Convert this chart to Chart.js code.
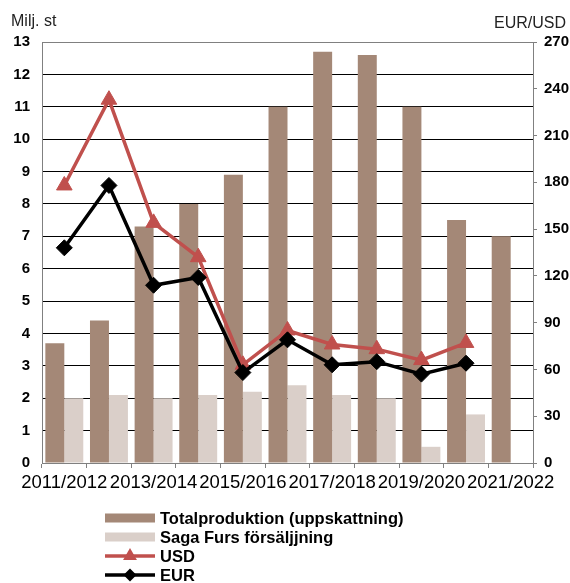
<!DOCTYPE html>
<html>
<head>
<meta charset="utf-8">
<script src="https://cdn.jsdelivr.net/npm/chart.js@4/dist/chart.umd.min.js"></script>
<style>
  html, body { margin: 0; padding: 0; background: #fff; }
  #wrap { width: 570px; height: 583px; position: relative; }
</style>
</head>
<body>
<div id="wrap"><canvas id="c" width="570" height="583"></canvas></div>
<script>
const categories = ["2011/2012","2012/2013","2013/2014","2014/2015","2015/2016","2016/2017","2017/2018","2018/2019","2019/2020","2020/2021","2021/2022"];
const totalProduction = [3.7, 4.4, 7.3, 8.0, 8.9, 11.0, 12.7, 12.6, 11.0, 7.5, 7.0];
const sagaFursSales = [2.0, 2.1, 2.0, 2.1, 2.2, 2.4, 2.1, 2.0, 0.5, 1.5, null];
const usdPrice = [178, 233, 154, 132, 63, 85, 76, 73, 66, 77, null];
const eurPrice = [138, 178, 114, 119, 58, 79, 63, 65, 57, 64, null];
const leftTicks = { min: 0, max: 13, step: 1 };
const rightTicks = { min: 0, max: 270, step: 30 };
const leftTitle = "Milj. st";
const rightTitle = "EUR/USD";

const FONT = "'Liberation Sans', Arial, sans-serif";
const C_TOTAL = '#A48877';
const C_SAGA = '#DACFC9';
const C_USD = '#C0504D';
const C_EUR = '#000000';

function drawMarker(ctx, style, x, y, r, color) {
  ctx.save();
  ctx.fillStyle = color;
  ctx.beginPath();
  if (style === 'triangle') {
    ctx.moveTo(x, y - r);
    ctx.lineTo(x + r * Math.sin(2 * Math.PI / 3), y - r * Math.cos(2 * Math.PI / 3));
    ctx.lineTo(x - r * Math.sin(2 * Math.PI / 3), y - r * Math.cos(2 * Math.PI / 3));
  } else {
    ctx.moveTo(x, y - r); ctx.lineTo(x + r, y); ctx.lineTo(x, y + r); ctx.lineTo(x - r, y);
  }
  ctx.closePath();
  ctx.fill();
  ctx.restore();
}

const extras = {
  id: 'extras',
  afterDraw(chart) {
    const ctx = chart.ctx;
    ctx.save();
    ctx.font = '16px ' + FONT;
    ctx.fillStyle = '#222';
    ctx.textBaseline = 'alphabetic';
    ctx.textAlign = 'left';
    ctx.fillText(leftTitle, 11, 26);
    ctx.textAlign = 'right';
    ctx.fillText(rightTitle, 566, 28);

    // legend
    const sx = 105, sw = 50, tx = 160;
    const rows = [518, 537, 556, 575];
    ctx.textAlign = 'left';
    ctx.textBaseline = 'middle';
    ctx.font = 'bold 16.5px ' + FONT;
    chart.data.datasets.forEach((ds, i) => {
      const y = rows[i];
      if (ds.type === 'line') {
        ctx.strokeStyle = ds.borderColor;
        ctx.lineWidth = 3.5;
        ctx.beginPath(); ctx.moveTo(sx, y); ctx.lineTo(sx + sw, y); ctx.stroke();
        drawMarker(ctx, ds.pointStyle, sx + sw / 2, y, ds.pointStyle === 'triangle' ? 8 : 6.5, ds.borderColor);
      } else {
        ctx.fillStyle = ds.backgroundColor;
        ctx.fillRect(sx, y - 4.5, sw, 9);
      }
      ctx.fillStyle = '#000';
      ctx.fillText(ds.label, tx, y + 1);
    });
    ctx.restore();
  }
};

new Chart(document.getElementById('c'), {
  type: 'bar',
  data: {
    labels: categories,
    datasets: [
      { type: 'bar', label: 'Totalproduktion (uppskattning)', data: totalProduction, backgroundColor: C_TOTAL, yAxisID: 'y', order: 3, categoryPercentage: 0.85, barPercentage: 1.0 },
      { type: 'bar', label: 'Saga Furs försäljjning', data: sagaFursSales, backgroundColor: C_SAGA, yAxisID: 'y', order: 4, categoryPercentage: 0.85, barPercentage: 1.0 },
      { type: 'line', label: 'USD', data: usdPrice, borderColor: C_USD, backgroundColor: C_USD, borderWidth: 3.5, pointStyle: 'triangle', pointRadius: 9, pointBorderWidth: 1, pointBackgroundColor: C_USD, pointBorderColor: C_USD, yAxisID: 'y2', order: 2, tension: 0 },
      { type: 'line', label: 'EUR', data: eurPrice, borderColor: C_EUR, backgroundColor: C_EUR, borderWidth: 3.5, pointStyle: 'rectRot', pointRadius: 8, pointBorderWidth: 1, pointBackgroundColor: C_EUR, pointBorderColor: C_EUR, yAxisID: 'y2', order: 1, tension: 0 }
    ]
  },
  options: {
    responsive: false,
    animation: false,
    layout: { padding: { top: 42, bottom: 90, left: 0, right: 0 } },
    plugins: { legend: { display: false }, tooltip: { enabled: false } },
    scales: {
      x: {
        offset: true,
        grid: { offset: true, drawOnChartArea: false, drawTicks: true, tickLength: 5, color: '#808080' },
        border: { display: true, color: '#808080', width: 1 },
        ticks: {
          autoSkip: false, maxRotation: 0, minRotation: 0, padding: 4,
          color: '#000', font: { family: FONT, size: 18.5 },
          callback: function(v, i) { return i % 2 === 0 ? this.getLabelForValue(v) : ''; }
        },
        afterFit: s => { s.height = 30; }
      },
      y: {
        position: 'left',
        min: leftTicks.min, max: leftTicks.max,
        grid: { drawTicks: false, color: ctx => (ctx.index === 0 || ctx.index === 13) ? '#808080' : '#000', lineWidth: 1 },
        border: { display: true, color: '#808080', width: 1 },
        ticks: { stepSize: leftTicks.step, padding: 12, color: '#000', font: { family: FONT, size: 15, weight: 'bold' } },
        afterFit: s => { s.width = 42; }
      },
      y2: {
        position: 'right',
        min: rightTicks.min, max: rightTicks.max,
        grid: { drawOnChartArea: false, drawTicks: true, tickLength: 4, color: '#808080' },
        border: { display: true, color: '#808080', width: 1 },
        ticks: { stepSize: rightTicks.step, padding: 7, color: '#000', font: { family: FONT, size: 15, weight: 'bold' } },
        afterFit: s => { s.width = 37; }
      }
    }
  },
  plugins: [extras]
});
</script>
</body>
</html>
